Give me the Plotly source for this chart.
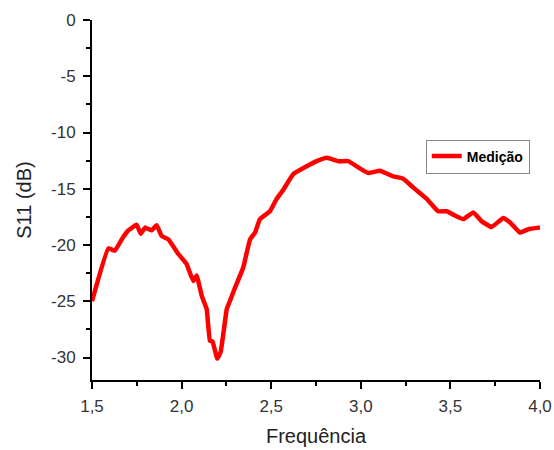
import plotly.graph_objects as go

freq = [1.50, 1.591, 1.628, 1.666, 1.70, 1.749, 1.772, 1.796, 1.833, 1.861, 1.889, 1.926,
        1.982, 2.028, 2.065, 2.084, 2.112, 2.14, 2.158, 2.173, 2.199, 2.218, 2.252, 2.27,
        2.298, 2.344, 2.382, 2.41, 2.437, 2.493, 2.53, 2.567, 2.623, 2.698, 2.754, 2.81,
        2.875, 2.93, 2.986, 3.042, 3.107, 3.181, 3.237, 3.293, 3.368, 3.432, 3.48, 3.516,
        3.572, 3.628, 3.675, 3.73, 3.795, 3.833, 3.888, 3.935, 4.0]
s11 = [-25.0, -20.3, -20.5, -19.5, -18.75, -18.2, -19.0, -18.45, -18.7, -18.25, -19.2, -19.5,
       -20.8, -21.7, -23.2, -22.7, -24.5, -25.7, -28.5, -28.6, -30.1, -29.5, -25.7, -24.95,
       -23.8, -22.0, -19.5, -18.9, -17.7, -17.0, -15.9, -15.1, -13.7, -13.0, -12.55, -12.25,
       -12.55, -12.55, -13.1, -13.6, -13.4, -13.9, -14.1, -14.9, -15.9, -17.0, -17.0, -17.3,
       -17.7, -17.1, -17.9, -18.4, -17.6, -18.0, -18.9, -18.6, -18.45]

x_tickvals = [1.5, 2.0, 2.5, 3.0, 3.5, 4.0]
x_ticktext = ["1,5", "2,0", "2,5", "3,0", "3,5", "4,0"]
y_tickvals = [0, -5, -10, -15, -20, -25, -30]
y_ticktext = ["0", "-5", "-10", "-15", "-20", "-25", "-30"]

fig = go.Figure()
fig.add_trace(go.Scatter(x=freq, y=s11, mode="lines", name="Medição",
                         line=dict(color="#ff0000", width=4.5, shape="spline", smoothing=0.3)))

fig.update_layout(
    width=554, height=450,
    margin=dict(l=92, r=14, t=20, b=70, autoexpand=False),
    paper_bgcolor="white", plot_bgcolor="white",
    font=dict(family="Liberation Sans, Arial, sans-serif", color="#222222"),
    showlegend=True,
    legend=dict(x=0.745, y=0.668, xanchor="left", yanchor="top",
                bordercolor="#888888", borderwidth=1, bgcolor="white",
                font=dict(size=14, color="black", family="Liberation Sans, Arial, sans-serif", weight="bold"),
                itemwidth=30, tracegroupgap=0),
)
fig.update_xaxes(
    range=[1.5, 4.0], tickvals=x_tickvals, ticktext=x_ticktext, automargin=False,
    showgrid=False, zeroline=False, showline=True, linecolor="black", linewidth=2,
    ticks="outside", ticklen=7, tickwidth=2, tickcolor="black",
    tickfont=dict(size=17, color="#333333"), ticklabelstandoff=3,
    minor=dict(dtick=0.25, ticks="outside", ticklen=4, tickwidth=1.5, tickcolor="black"),
    title=dict(text="Frequência", font=dict(size=20, color="#222222"), standoff=14),
)
fig.update_yaxes(
    range=[-32, 0], tickvals=y_tickvals, ticktext=y_ticktext, automargin=False,
    showgrid=False, zeroline=False, showline=True, linecolor="black", linewidth=2,
    ticks="outside", ticklen=7, tickwidth=2, tickcolor="black",
    tickfont=dict(size=17, color="#333333"), ticklabelstandoff=4,
    minor=dict(dtick=2.5, ticks="outside", ticklen=4, tickwidth=1.5, tickcolor="black"),
    title=dict(text="S11 (dB)", font=dict(size=20, color="#222222"), standoff=14),
)

fig.write_html("out.html")
